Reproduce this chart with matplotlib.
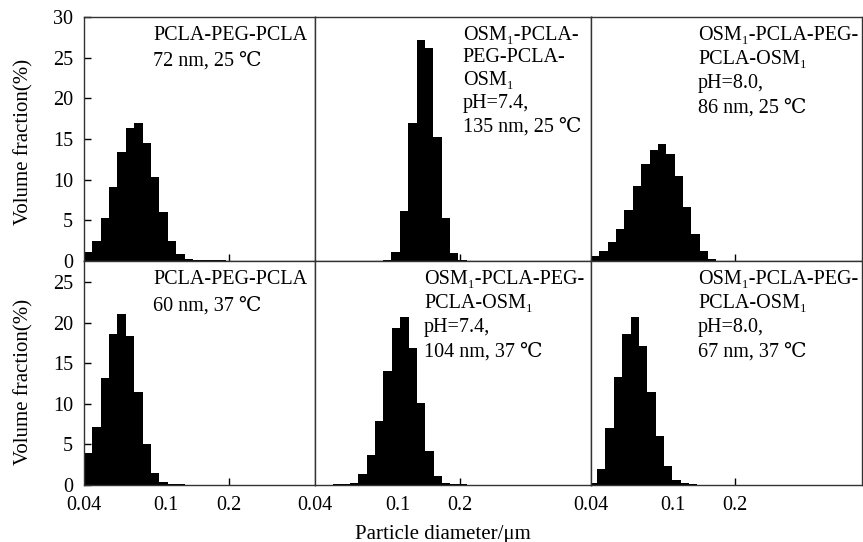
import numpy as np
import matplotlib
matplotlib.use("Agg")
import matplotlib.pyplot as plt

plt.rcParams['font.family'] = ['Liberation Serif', 'DejaVu Serif', 'Noto Sans CJK SC']

# bin width in log10 units (equal log-spaced bins)
step = 0.0405

# first bin edge (um) for each panel, row by row
starts = [0.04, 0.0852, 0.04,
          0.04, 0.0489, 0.039]

# volume fraction (%) per bin
h_25_plain = [1.1, 2.5, 5.3, 9.1, 13.4, 16.3, 17.0, 14.5, 10.3, 6.0, 2.5, 0.8, 0.2,
              0.12, 0.12, 0.12, 0.12]
h_25_ph74 = [0.12, 1.1, 6.2, 17.0, 27.2, 26.2, 15.3, 5.3, 1.0, 0.15]
h_25_ph80 = [0.6, 1.2, 2.3, 3.9, 6.3, 9.2, 11.9, 13.7, 14.4, 13.2, 10.5, 6.7, 3.3, 1.2, 0.2]
h_37_plain = [3.9, 7.1, 13.2, 18.6, 21.1, 18.3, 11.5, 5.0, 1.5, 0.4, 0.15, 0.12]
h_37_ph74 = [0.12, 0.12, 0.3, 1.4, 3.7, 7.9, 14.0, 19.3, 20.7, 16.9, 10.1, 4.2, 1.1,
             0.25, 0.15, 0.12]
h_37_ph80 = [0.25, 2.0, 7.0, 13.3, 18.6, 20.7, 17.1, 11.4, 6.0, 2.3, 0.65, 0.25, 0.12]
heights = [h_25_plain, h_25_ph74, h_25_ph80, h_37_plain, h_37_ph74, h_37_ph80]

labels = [
    "PCLA-PEG-PCLA\n72 nm, 25 ℃",
    "OSM₁-PCLA-\nPEG-PCLA-\nOSM₁\npH=7.4,\n135 nm, 25 ℃",
    "OSM₁-PCLA-PEG-\nPCLA-OSM₁\npH=8.0,\n86 nm, 25 ℃",
    "PCLA-PEG-PCLA\n60 nm, 37 ℃",
    "OSM₁-PCLA-PEG-\nPCLA-OSM₁\npH=7.4,\n104 nm, 37 ℃",
    "OSM₁-PCLA-PEG-\nPCLA-OSM₁\npH=8.0,\n67 nm, 37 ℃",
]
label_x = [0.30, 0.536, 0.395, 0.30, 0.395, 0.395]
label_y = [0.965, 0.965, 0.965, 0.958, 0.958, 0.958]
label_ls = [1.5, 1.28, 1.38, 1.5, 1.35, 1.35]

xmax = [0.523, 0.86, 0.82]
ymax = [30, 27.6]
yticks = [[0, 5, 10, 15, 20, 25, 30], [0, 5, 10, 15, 20, 25]]

fig = plt.figure(figsize=(8.63, 5.42), dpi=100)
gs = fig.add_gridspec(2, 3, width_ratios=[231, 276, 271], height_ratios=[244, 224],
                      left=0.0973, right=0.9988, top=0.9686, bottom=0.1052,
                      wspace=0, hspace=0)

for i in range(6):
    r, c = divmod(i, 3)
    ax = fig.add_subplot(gs[r, c])
    edges = starts[i] * 10 ** (step * np.arange(len(heights[i]) + 1))
    ax.stairs(heights[i], edges, fill=True, color='black', linewidth=0)
    ax.set_xscale('log')
    ax.set_xlim(0.04, xmax[c])
    ax.set_ylim(0, ymax[r])
    for s in ax.spines.values():
        s.set_linewidth(1.0)
        s.set_color('#333333')

    ax.set_xticks([0.2])
    ax.set_xticks([0.04, 0.1], minor=True)
    ax.tick_params(axis='x', which='major', direction='in', length=5, width=1, pad=8,
                   labelsize=14.5)
    ax.tick_params(axis='x', which='minor', length=0, pad=8, labelsize=14.5)
    if r == 1:
        ax.set_xticklabels(['0.2'])
        ax.set_xticklabels(['0.04', '0.1'], minor=True)
    else:
        ax.set_xticklabels([])
        ax.set_xticklabels([], minor=True)

    if c == 0:
        ax.set_yticks(yticks[r])
        ax.tick_params(axis='y', direction='in', length=5, width=1, pad=8, labelsize=14.5)
        ax.set_ylabel("Volume fraction(%)", fontsize=15)
        ax.yaxis.set_label_coords(-0.22, 0.49 if r == 0 else 0.46)
    else:
        ax.set_yticks([])

    ax.text(label_x[i], label_y[i], labels[i], transform=ax.transAxes,
            ha='left', va='top', fontsize=14.5, linespacing=label_ls[i])

fig.text(443 / 863, 1 - 534 / 542, "Particle diameter/μm", ha='center', va='center',
         fontsize=15)

fig.savefig("out.png", dpi=100)
